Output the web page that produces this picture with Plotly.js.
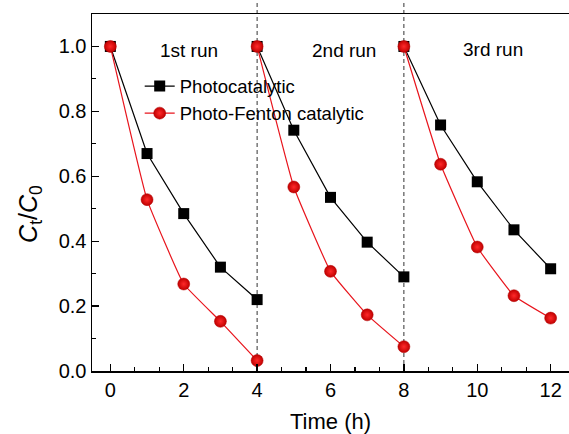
<!DOCTYPE html>
<html>
<head>
<meta charset="utf-8">
<script src="https://cdn.plot.ly/plotly-3.0.1.min.js"></script>
<style>html,body{margin:0;padding:0;background:#fff;}#chart{width:569px;height:434px;}</style>
</head>
<body>
<div id="chart"></div>
<script>
// Time (h), with null separating the three runs
const time = [0, 1, 2, 3, 4, null, 4, 5, 6, 7, 8, null, 8, 9, 10, 11, 12];
const photocatalytic = [1.0, 0.67, 0.485, 0.32, 0.22, null, 1.0, 0.742, 0.535, 0.397, 0.29, null, 1.0, 0.758, 0.583, 0.435, 0.315];
const photoFenton = [1.0, 0.528, 0.268, 0.153, 0.032, null, 1.0, 0.567, 0.307, 0.173, 0.075, null, 1.0, 0.637, 0.382, 0.232, 0.163];
const runLabels = ['1st run', '2nd run', '3rd run'];
const runLabelX = [2.13, 6.38, 10.43];
const runLabelY = [0.987, 0.987, 0.99];
const runBoundaries = [4, 8];

const FONT = 'Liberation Sans, Arial, sans-serif';

const traces = [
  {
    x: time, y: photocatalytic, name: 'Photocatalytic',
    type: 'scatter', mode: 'lines+markers', connectgaps: false,
    line: {color: '#000', width: 1.2},
    marker: {symbol: 'square', size: 11, color: '#000'}
  },
  {
    x: time, y: photoFenton, name: 'Photo-Fenton catalytic',
    type: 'scatter', mode: 'lines+markers', connectgaps: false,
    line: {color: '#e8141c', width: 1.2, shape: 'spline', smoothing: 0.3},
    marker: {symbol: 'circle', size: 12, color: '#c00000',
             gradient: {type: 'radial', color: '#ff2a2a'},
             line: {color: '#b00000', width: 0.5}}
  }
];

const shapes = runBoundaries.map(v => ({
  type: 'line', xref: 'x', yref: 'paper', x0: v, x1: v, y0: 0, y1: 1.04,
  line: {color: '#333', width: 1, dash: '4px,3px'}, layer: 'below'
}));

const annotations = runLabels.map((t, i) => ({
  x: runLabelX[i], y: runLabelY[i], xref: 'x', yref: 'y', text: t,
  showarrow: false, font: {family: FONT, size: 19, color: '#000'}
}));
annotations.push({
  xref: 'paper', yref: 'paper', x: -0.13, y: 0.44, xanchor: 'center', yanchor: 'middle',
  text: '<i>C</i><sub>t</sub>/<i>C</i><sub>0</sub>', textangle: -90, showarrow: false,
  font: {family: FONT, size: 25, color: '#000'}
});

const layout = {
  width: 569, height: 434,
  margin: {l: 92, r: 0, t: 14, b: 63},
  paper_bgcolor: '#fff', plot_bgcolor: '#fff',
  showlegend: true,
  legend: {x: 0.1, y: 0.85, xanchor: 'left', yanchor: 'top',
           bgcolor: 'rgba(0,0,0,0)', borderwidth: 0,
           font: {family: FONT, size: 18.5, color: '#000'}, tracegroupgap: 0},
  xaxis: {
    range: [-0.5, 12.5], dtick: 2, tick0: 0,
    ticks: 'inside', ticklen: 7, tickwidth: 1.3, tickcolor: '#000',
    minor: {dtick: 2/3, tick0: 0, ticks: 'inside', ticklen: 4, tickwidth: 1.1, tickcolor: '#000', showgrid: false},
    showline: true, linecolor: '#000', linewidth: 1.5, mirror: true,
    showgrid: false, zeroline: false,
    tickfont: {family: FONT, size: 20, color: '#000'},
    title: {text: 'Time (h)', font: {family: FONT, size: 22, color: '#000'}, standoff: 14}
  },
  yaxis: {
    range: [0, 1.1], dtick: 0.2, tick0: 0, tickformat: '.1f',
    ticks: 'inside', ticklen: 7, tickwidth: 1.3, tickcolor: '#000',
    minor: {dtick: 0.1, ticks: 'inside', ticklen: 4, tickwidth: 1.1, tickcolor: '#000', showgrid: false},
    showline: true, linecolor: '#000', linewidth: 1.5, mirror: false,
    showgrid: false, zeroline: false,
    tickfont: {family: FONT, size: 20, color: '#000'}
  },
  shapes: shapes,
  annotations: annotations
};

Plotly.newPlot('chart', traces, layout, {displayModeBar: false, staticPlot: true});
</script>
</body>
</html>
